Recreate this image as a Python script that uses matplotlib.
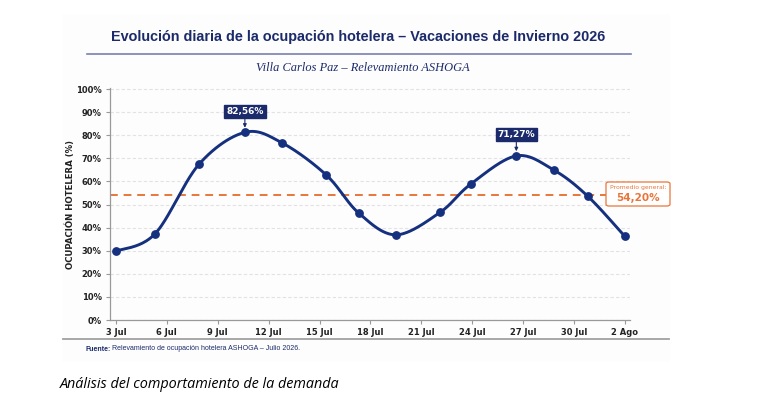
import numpy as np
import matplotlib
matplotlib.use('Agg')
import matplotlib.pyplot as plt
from matplotlib.patches import FancyBboxPatch, Rectangle
from matplotlib.lines import Line2D

# Days since 3 Jul and daily occupancy (%)
dias = [0, 2.3, 4.9, 7.6, 9.8, 12.4, 14.3, 16.5, 19.1, 20.9, 23.6, 25.8, 27.8, 30]
ocupacion = [29.8, 37.3, 67.5, 81.3, 76.7, 62.8, 46.4, 36.9, 46.6, 58.8,
             71.1, 65.0, 53.7, 36.2]
tick_dias = [0, 3, 6, 9, 12, 15, 18, 21, 24, 27, 30]
tick_labels = ['3 Jul', '6 Jul', '9 Jul', '12 Jul', '15 Jul', '18 Jul',
               '21 Jul', '24 Jul', '27 Jul', '30 Jul', '2 Ago']
promedio = 54.20
pico_idx = [3, 10]
pico_labels = ['82,56%', '71,27%']

NAVY = '#1B2A6B'
LINE = '#15307E'
ORANGE = '#E8763A'
W, H = 778, 411


def fx(px):
    return px / W


def fy(py):
    return 1 - py / H


def suavizar(x, y, n=40):
    """Catmull-Rom spline through the points."""
    pts = np.column_stack([x, y])
    pts = np.vstack([pts[0], pts, pts[-1]])
    t = np.linspace(0, 1, n)[:, None]
    out = []
    for i in range(1, len(pts) - 2):
        p0, p1, p2, p3 = pts[i - 1], pts[i], pts[i + 1], pts[i + 2]
        seg = 0.5 * ((2 * p1) + (-p0 + p2) * t
                     + (2 * p0 - 5 * p1 + 4 * p2 - p3) * t ** 2
                     + (-p0 + 3 * p1 - 3 * p2 + p3) * t ** 3)
        out.append(seg)
    return np.vstack(out)


fig = plt.figure(figsize=(W / 100, H / 100), dpi=100)
fig.patch.set_facecolor('white')

# faint panel behind the chart
fig.patches.append(Rectangle((fx(62), fy(362)), fx(670) - fx(62), fy(14) - fy(362),
                             transform=fig.transFigure, facecolor='#FDFDFD',
                             edgecolor='none', zorder=-5))

ax = fig.add_axes([fx(110), fy(320), fx(630) - fx(110), fy(88) - fy(320)])
ax.set_facecolor('none')

curva = suavizar(dias, ocupacion)
ax.plot(curva[:, 0], curva[:, 1], color=LINE, lw=2.1, zorder=3)
ax.plot(dias, ocupacion, 'o', color=LINE, ms=5.3, zorder=4)

ax.axhline(promedio, color=ORANGE, lw=1.4, ls=(0, (4, 3)), zorder=2)

for i, lab in zip(pico_idx, pico_labels):
    ax.annotate(lab, xy=(dias[i], ocupacion[i] + 2.0), xytext=(0, 12),
                textcoords='offset points', ha='center', va='center',
                fontsize=6.5, fontweight='bold', color='white',
                bbox=dict(boxstyle='square,pad=0.22', fc=NAVY, ec=NAVY),
                arrowprops=dict(arrowstyle='-|>', color=NAVY, lw=0.8,
                                mutation_scale=5, shrinkA=0, shrinkB=0),
                zorder=5)

ax.set_xlim(-0.35, 30.3)
ax.set_ylim(0, 100.5)
ax.set_xticks(tick_dias)
ax.set_xticklabels(tick_labels)
ax.set_yticks(range(0, 101, 10))
ax.set_yticklabels([f'{v}%' for v in range(0, 101, 10)])
ax.tick_params(labelsize=6, colors='#222222', length=3, width=0.8, pad=3)
ax.tick_params(axis='both', color='#999999')
for t in ax.get_xticklabels() + ax.get_yticklabels():
    t.set_fontweight('bold')
ax.yaxis.grid(True, color='#E2E2E2', lw=0.8, ls=(0, (3, 2)))
ax.set_axisbelow(True)
for s in ['top', 'right']:
    ax.spines[s].set_visible(False)
for s in ['left', 'bottom']:
    ax.spines[s].set_color('#999999')
    ax.spines[s].set_linewidth(0.9)
ax.set_ylabel('OCUPACIÓN HOTELERA (%)', fontsize=6.2, fontweight='bold',
              color='#222222', labelpad=1)

# average label box
fig.patches.append(FancyBboxPatch((fx(606), fy(206)), fx(670) - fx(606), fy(182) - fy(206),
                                  boxstyle='round,pad=0,rounding_size=0.004',
                                  transform=fig.transFigure, facecolor='white',
                                  edgecolor=ORANGE, lw=0.9, zorder=5))
fig.text(fx(638), fy(187.5), 'Promedio general:', fontsize=4.4, color=ORANGE,
         ha='center', va='center', zorder=6)
fig.text(fx(638), fy(198), '54,20%', fontsize=7.5, color=ORANGE,
         fontweight='bold', ha='center', va='center', zorder=6)

# titles
fig.text(fx(358), fy(37), 'Evolución diaria de la ocupación hotelera – Vacaciones de Invierno 2026',
         family='Liberation Sans', fontweight='bold',
         fontsize=10.4, color=NAVY, ha='center', va='center')
fig.add_artist(Line2D([fx(87), fx(631)], [fy(54), fy(54)], color='#7A7FAF', lw=1.2))
fig.text(fx(363), fy(68), 'Villa Carlos Paz – Relevamiento ASHOGA',
         family='Liberation Serif', style='italic', fontsize=8.9, color=NAVY,
         ha='center', va='center')

# source
fig.add_artist(Line2D([fx(63), fx(669)], [fy(339), fy(339)], color='#A0A0A0', lw=1.3))
t1 = fig.text(fx(85), fy(349), 'Fuente:', fontsize=5.0, color=NAVY,
              fontweight='bold', ha='left', va='center', family='Liberation Sans')
ax.annotate('Relevamiento de ocupación hotelera ASHOGA – Julio 2026.',
            xy=(1, 0.5), xycoords=t1, xytext=(1.5, 0), textcoords='offset points',
            fontsize=5.0, color=NAVY, ha='left', va='center',
            family='Liberation Sans', annotation_clip=False)

fig.text(fx(60), fy(384), 'Análisis del comportamiento de la demanda',
         family='Open Sans', style='italic', fontsize=10.4, color='black',
         ha='left', va='center')

fig.savefig('out.png', dpi=100, facecolor='white')
